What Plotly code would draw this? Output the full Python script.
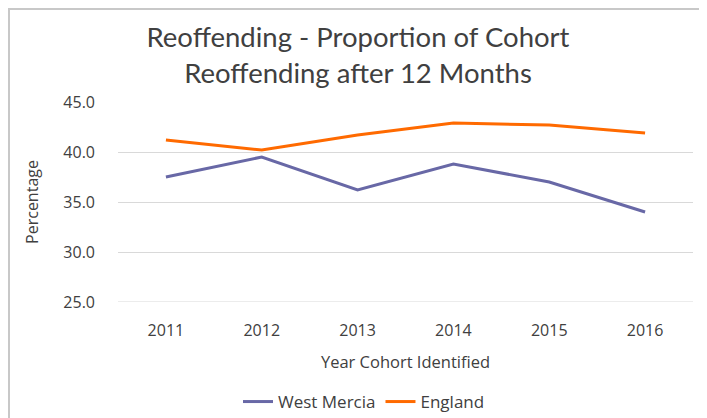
import plotly.graph_objects as go

years = ["2011", "2012", "2013", "2014", "2015", "2016"]
west_mercia = [37.5, 39.5, 36.2, 38.8, 37.0, 34.0]
england = [41.2, 40.2, 41.7, 42.9, 42.7, 41.9]
y_ticks = [25, 30, 35, 40, 45]
y_tick_labels = ["25.0", "30.0", "35.0", "40.0", "45.0"]

TFONT = "Lato, 'Open Sans', sans-serif"
FONT = "'Open Sans', Lato, sans-serif"
TXT = "#404040"

# page body has an 8px margin, so the figure is drawn from (8, 8)
W, H = 699, 410
OFF = 8

fig = go.Figure()
fig.add_trace(go.Scatter(x=years, y=west_mercia, mode="lines", name="West Mercia",
                         line=dict(color="#6868A6", width=3)))
fig.add_trace(go.Scatter(x=years, y=england, mode="lines", name="England",
                         line=dict(color="#FF6A00", width=3)))

L, R, T, B = 118 - OFF, 693 - OFF, 102 - OFF, 302 - OFF
fig.update_layout(
    width=W, height=H,
    margin=dict(l=L, r=W - R, t=T, b=H - B, autoexpand=False),
    paper_bgcolor="white", plot_bgcolor="white",
    font=dict(family=FONT, color=TXT),
    title=dict(text="Reoffending - Proportion of Cohort<br>Reoffending after 12 Months",
               xref="container", yref="container",
               x=(358 - OFF) / W, xanchor="center", y=1 - 39 / H, yanchor="middle",
               font=dict(size=27.5, color=TXT, family=TFONT)),
    showlegend=True,
    legend=dict(orientation="h", xref="container", yref="container",
                x=(364 - OFF) / W, xanchor="center", y=1 - (402 - OFF) / H, yanchor="middle",
                font=dict(size=17, color=TXT), tracegroupgap=0,
                traceorder="normal"),
    xaxis=dict(type="category", range=[-0.5, 5.5], showgrid=False, showline=False,
               zeroline=False, ticks="", tickfont=dict(size=16, color=TXT),
               ticklabelstandoff=17,
               title=dict(text="Year Cohort Identified", font=dict(size=16.5, color=TXT), standoff=16)),
    yaxis=dict(range=[25, 45], tickvals=y_ticks, ticktext=y_tick_labels,
               showgrid=True, gridcolor="#D9D9D9", gridwidth=1, zeroline=False,
               showline=False, ticks="", tickfont=dict(size=16, color=TXT),
               ticklabelstandoff=22,
               title=dict(text="Percentage", font=dict(size=16, color=TXT), standoff=20)),
)

# bottom gridline at 25.0 (edge of plot)
fig.add_shape(type="line", xref="paper", yref="y", x0=0, x1=1, y0=25, y1=25,
              line=dict(color="#D9D9D9", width=1), layer="below")

# outer chart border (top and left visible)
pw, ph = R - L, B - T
fig.add_shape(type="rect", xref="paper", yref="paper",
              x0=(1 - L) / pw, x1=(W + 20 - L) / pw,
              y0=(B - H - 20) / ph, y1=(B - 1) / ph,
              line=dict(color="#C8C8C8", width=2), fillcolor="rgba(0,0,0,0)", layer="below")

fig.write_html("out.html")
